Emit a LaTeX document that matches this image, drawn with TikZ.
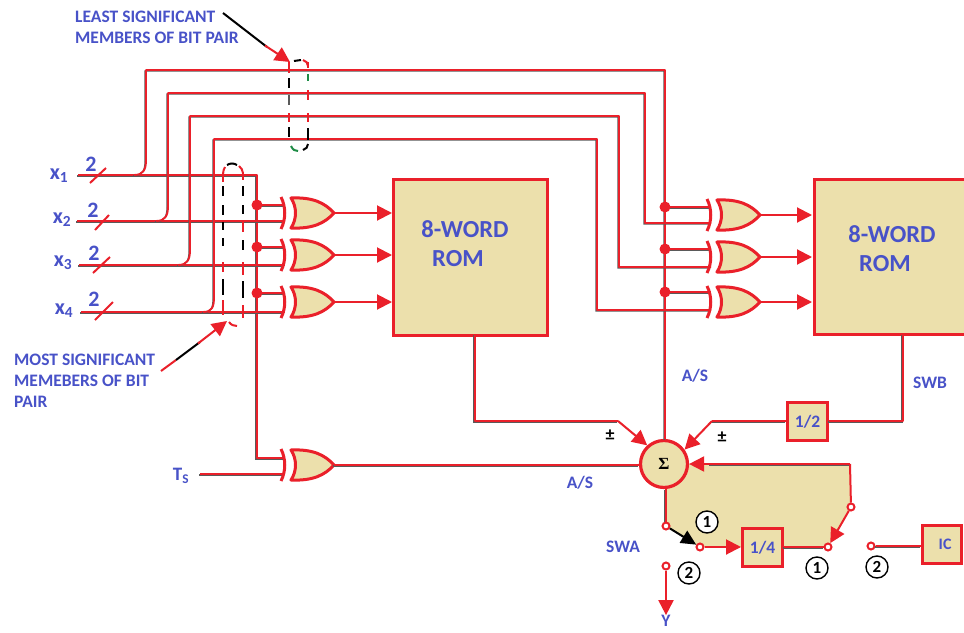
\documentclass[tikz,border=0pt]{standalone}
\usepackage{fontspec}
\setmainfont{Carlito}
\newfontfamily\serifb{Liberation Serif}
\usetikzlibrary{arrows.meta,calc}
\definecolor{wirered}{RGB}{234,32,42}
\definecolor{tan}{RGB}{236,224,172}
\definecolor{lblue}{RGB}{72,82,200}
\definecolor{shade}{RGB}{90,90,90}
\definecolor{dgreen}{RGB}{30,140,70}
\tikzset{
  wire/.style={draw=wirered,line width=1.9pt,line join=round,
    preaction={draw=shade,line width=1.3pt,transform canvas={shift={(-0.9pt,-0.9pt)}}}},
  plain/.style={draw=wirered,line width=2pt,line join=round},
  arr/.style={plain,-{Triangle[length=15pt,width=15pt,fill=wirered]}},
  blk/.style={draw=black,line width=2pt,-{Triangle[length=15pt,width=14pt,fill=black]}},
  romb/.style={draw=wirered,fill=tan,line width=3pt,anchor=north west,inner sep=0pt},
  boxb/.style={draw=wirered,fill=tan,line width=3.2pt,anchor=north west,inner sep=0pt,text=lblue,
    font=\bfseries\fontsize{17.5}{19}\selectfont},
  lab/.style={text=lblue,font=\bfseries\fontsize{17.5}{19}\selectfont,inner sep=0pt},
  note/.style={lab,anchor=west},
  big/.style={text=lblue,font=\bfseries\fontsize{24.5}{27}\selectfont,inner sep=0pt},
  two/.style={text=lblue,font=\bfseries\fontsize{22}{24}\selectfont,inner sep=0pt},
  xin/.style={text=lblue,font=\bfseries\fontsize{22}{24}\selectfont,inner sep=0pt},
  joint/.style={circle,fill=wirered,inner sep=0pt,minimum size=11pt},
  cont/.style={circle,draw=wirered,fill=white,line width=2pt,inner sep=0pt,minimum size=7pt},
  num/.style={circle,draw=black,line width=1.4pt,fill=white,inner sep=0pt,minimum size=22pt,
    font=\bfseries\fontsize{17}{18}\selectfont},
  tick/.style={draw=wirered,line width=2pt},
  xorg/.pic={
    \path[draw=wirered,fill=tan,line width=3pt,line join=round]
      (0,-15) .. controls (6,-6) and (6,6) .. (0,15)
      .. controls (22,16) and (34,10) .. (43,0)
      .. controls (34,-10) and (22,-16) .. (0,-15) -- cycle;
    \draw[draw=wirered,line width=3pt] (-10,-16) .. controls (-5,-6) and (-5,6) .. (-10,16);
    \coordinate (-in) at (-6,0);
    \coordinate (-out) at (43,0);
  }
}
\begin{document}
\begin{tikzpicture}[x=1pt,y=-1pt]
\useasboundingbox[fill=white] (0,0) rectangle (964,632);
% inputs
\coordinate (in1) at (78,175);
\coordinate (in2) at (77,221);
\coordinate (in3) at (79,265);
\coordinate (in4) at (81,312);
\coordinate (ints) at (200,474);
% feedback region fill
\coordinate (sw1) at (666,526);
\coordinate (sw2) at (700,547);
\coordinate (sw3) at (828,547);
\coordinate (sw4) at (851,507);
\coordinate (fb) at (850,464);
\path[fill=tan] (665,480) -- (665,526) -- (sw2) -- (sw3) -- (sw4) -- (fb) -- (680,464) -- cycle;
% main blocks
\node[romb,minimum width=154pt,minimum height=156pt] (rom1) at (392,178) {};
\node[romb,minimum width=156pt,minimum height=155pt] (rom2) at (813,178) {};
\node[boxb,minimum width=40pt,minimum height=38pt] (half) at (786,401) {1/2};
\node[circle,draw=wirered,fill=tan,line width=3.2pt,minimum size=47pt,inner sep=0pt,
  font=\serifb\bfseries\fontsize{17}{18}\selectfont] (sum) at (664,464) {Σ};
% junctions
\coordinate (d1) at (257,205);
\coordinate (d2) at (257,247);
\coordinate (d3) at (257,293);
\coordinate (e1) at (665,207);
\coordinate (e2) at (665,249);
\coordinate (e3) at (665,292);
% input wires and buses
\path[wire] (in1) -- (257,175) -- (d1) -- (d2) -- (d3) -- (257,458) -- (285,458);
\path[wire] (in2) -- (285,221);
\path[wire] (in3) -- (285,265);
\path[wire] (in4) -- (285,312);
\path[wire] (ints) -- (285,474);
\path[wire] (134,175) .. controls (143,175) and (146,170) .. (146,160) -- (146,70) -- (665,70) -- (e1) -- (e2) -- (e3) -- (sum.north -| e3);
\path[wire] (156,221) .. controls (165,221) and (168,216) .. (168,206) -- (168,93) -- (645,93) -- (645,223) -- (711,223);
\path[wire] (178,265) .. controls (187,265) and (190,260) .. (190,250) -- (190,116) -- (619,116) -- (619,267) -- (711,267);
\path[wire] (203,312) .. controls (212,312) and (214,307) .. (214,297) -- (214,139) -- (597,139) -- (597,310) -- (711,310);
\path[wire] (d1) -- (285,205);
\path[wire] (d2) -- (285,247);
\path[wire] (d3) -- (285,293);
\path[wire] (e1) -- (711,207);
\path[wire] (e2) -- (711,249);
\path[wire] (e3) -- (711,292);
% gates
\pic (g1) at (291,213) {xorg};
\pic (g2) at (291,255) {xorg};
\pic (g3) at (291,302) {xorg};
\pic (g4) at (291,465) {xorg};
\pic (h1) at (717,215) {xorg};
\pic (h2) at (717,257) {xorg};
\pic (h3) at (717,302) {xorg};
% outputs into ROMs
\draw[arr] (g1-out) -- (392,213);
\draw[arr] (g2-out) -- (392,255);
\draw[arr] (g3-out) -- (392,302);
\draw[arr] (h1-out) -- (812,215);
\draw[arr] (h2-out) -- (812,257);
\draw[arr] (h3-out) -- (812,302);
\path[wire] (g4-out) -- (g4-out -| sum.west);
% dots
\foreach \p in {d1,d2,d3,e1,e2,e3} \node[joint] (j\p) at (\p) {};
% switches and boxes
\node[boxb,minimum width=40pt,minimum height=38pt] (quarter) at (741,527) {1/4};
\node[boxb,minimum width=39pt,minimum height=38pt,font=\bfseries\fontsize{16}{18}\selectfont] (ic) at (921,524) {\hspace*{6pt}IC};
\node[cont] (a1) at (sw1) {};
\node[cont] (a2) at (sw2) {};
\node[cont] (b1) at (sw3) {};
\node[cont] (b2) at (sw4) {};
\node[cont] (a3) at (666,566) {};
\node[cont] (b3) at (871,546) {};
\node[lab] (yy) at (666,621) {Y};
% connectors
\path[wire] (sum.south -| a1) -- (a1);
\draw[blk] (a1) -- (a2);
\draw[arr] (a2) -- (a2 -| quarter.west);
\path[wire] (quarter.east |- b1) -- (b1);
\draw[arr] (b2) -- (b1);
\path[plain] (b2) -- (fb);
\path[wire] (fb) -- (710,464);
\draw[arr] (710,464) -- (sum.east);
\draw[arr] (a3) -- (yy.north);
\path[wire] (b3) -- (b3 -| ic.west);
\path[wire] (475,334) -- (475,421) -- (618,421);
\draw[arr] (618,421) -- (sum.132);
\path[wire] (903,334) -- (903,421) -- (903,421 -| half.east);
\path[wire] (half.west |- 0,421) -- (712,421);
\draw[arr] (712,421) -- (sum.35);
% bus ticks
\draw[tick] (90,183) -- (106,168);
\draw[tick] (95,230) -- (109,215);
\draw[tick] (93,273) -- (110,257);
\draw[tick] (95,320) -- (113,302);
% dashed groupings
\foreach \x/\a/\b/\c in {289/62/73/wirered,289/78/88/black,289/95/105/shade,289/113/122/wirered,289/127/137/black,
  308/62/68/wirered,308/74/81/dgreen,308/90/100/wirered,308/113/122/wirered,308/128/140/black,
  223/175/182/wirered,223/186/196/black,223/205/215/black,223/222/230/black,223/238/246/black,223/262/272/wirered,223/279/295/black,223/300/315/wirered,
  243/172/180/wirered,243/186/196/black,243/205/214/black,243/222/232/wirered,243/240/250/black,243/262/275/wirered,243/281/298/black,243/305/318/wirered}
  \draw[draw=\c,line width=2pt] (\x,\a) -- (\x,\b);
\draw[black,line width=2pt] (294,61) -- (301,60);
\draw[wirered,line width=2pt] (303,60) .. controls (306,61) and (308,63) .. (308,66);
\draw[dgreen,line width=2pt] (291,146) .. controls (293,150) and (295,151) .. (298,151);
\draw[black,line width=2pt] (303,150) .. controls (306,149) and (308,147) .. (308,144);
\draw[black,line width=2pt] (227,165) .. controls (230,163) and (234,163) .. (237,165);
\draw[wirered,line width=2pt] (239,166) .. controls (241,168) and (243,170) .. (243,173);
\draw[wirered,line width=2pt] (223,174) .. controls (223,171) and (224,169) .. (225,167);
\draw[wirered,line width=2pt] (229,322) .. controls (231,325) and (234,326) .. (237,326);
% pointers
\coordinate (lsb) at (290,62);
\coordinate (msb) at (227,321);
\draw[black,line width=2pt] (223,13) -- (267,47);
\draw[arr] (265,45.5) -- (lsb);
\draw[wirered,line width=2pt] (161,371) -- (176,360);
\draw[black,line width=2pt] (176,360) -- (200,342);
\draw[arr] (198,343.5) -- (msb);
% text
\node[note] (t1) at (75,17) {LEAST SIGNIFICANT};
\node[note] (t2) at (75,38) {MEMBERS OF BIT PAIR};
\node[note] (t3) at (14,360) {MOST SIGNIFICANT};
\node[note] (t4) at (14,381) {MEMEBERS OF BIT};
\node[note] (t5) at (14,402) {PAIR};
\node[big] (r1a) at (465,229) {8-WORD};
\node[big] (r1b) at (458,259) {ROM};
\node[big] (r2a) at (892,234) {8-WORD};
\node[big] (r2b) at (885,264) {ROM};
\node[two] (n1) at (91,164) {2};
\node[two] (n2) at (93,210) {2};
\node[two] (n3) at (94,253) {2};
\node[two] (n4) at (94,299) {2};
\node[xin] (x1) at (59,176) {x\textsubscript{1}};
\node[xin] (x2) at (62,220) {x\textsubscript{2}};
\node[xin] (x3) at (63,263) {x\textsubscript{3}};
\node[xin] (x4) at (64,311) {x\textsubscript{4}};
\node[lab,font=\bfseries\fontsize{19}{21}\selectfont] (ts) at (181,476) {T\textsubscript{S}};
\node[lab] (as1) at (695,376) {A/S};
\node[lab] (as2) at (580,483) {A/S};
\node[lab] (swb) at (930,383) {SWB};
\node[lab] (swa) at (623,547) {SWA};
\node[font=\bfseries\fontsize{18}{20}\selectfont,inner sep=0pt] (pm1) at (610,435) {±};
\node[font=\bfseries\fontsize{18}{20}\selectfont,inner sep=0pt] (pm2) at (722,437) {±};
\node[num] (c1) at (707,522) {1};
\node[num] (c2) at (689,573) {2};
\node[num] (c3) at (817,568) {1};
\node[num] (c4) at (877,567) {2};
\end{tikzpicture}
\end{document}
